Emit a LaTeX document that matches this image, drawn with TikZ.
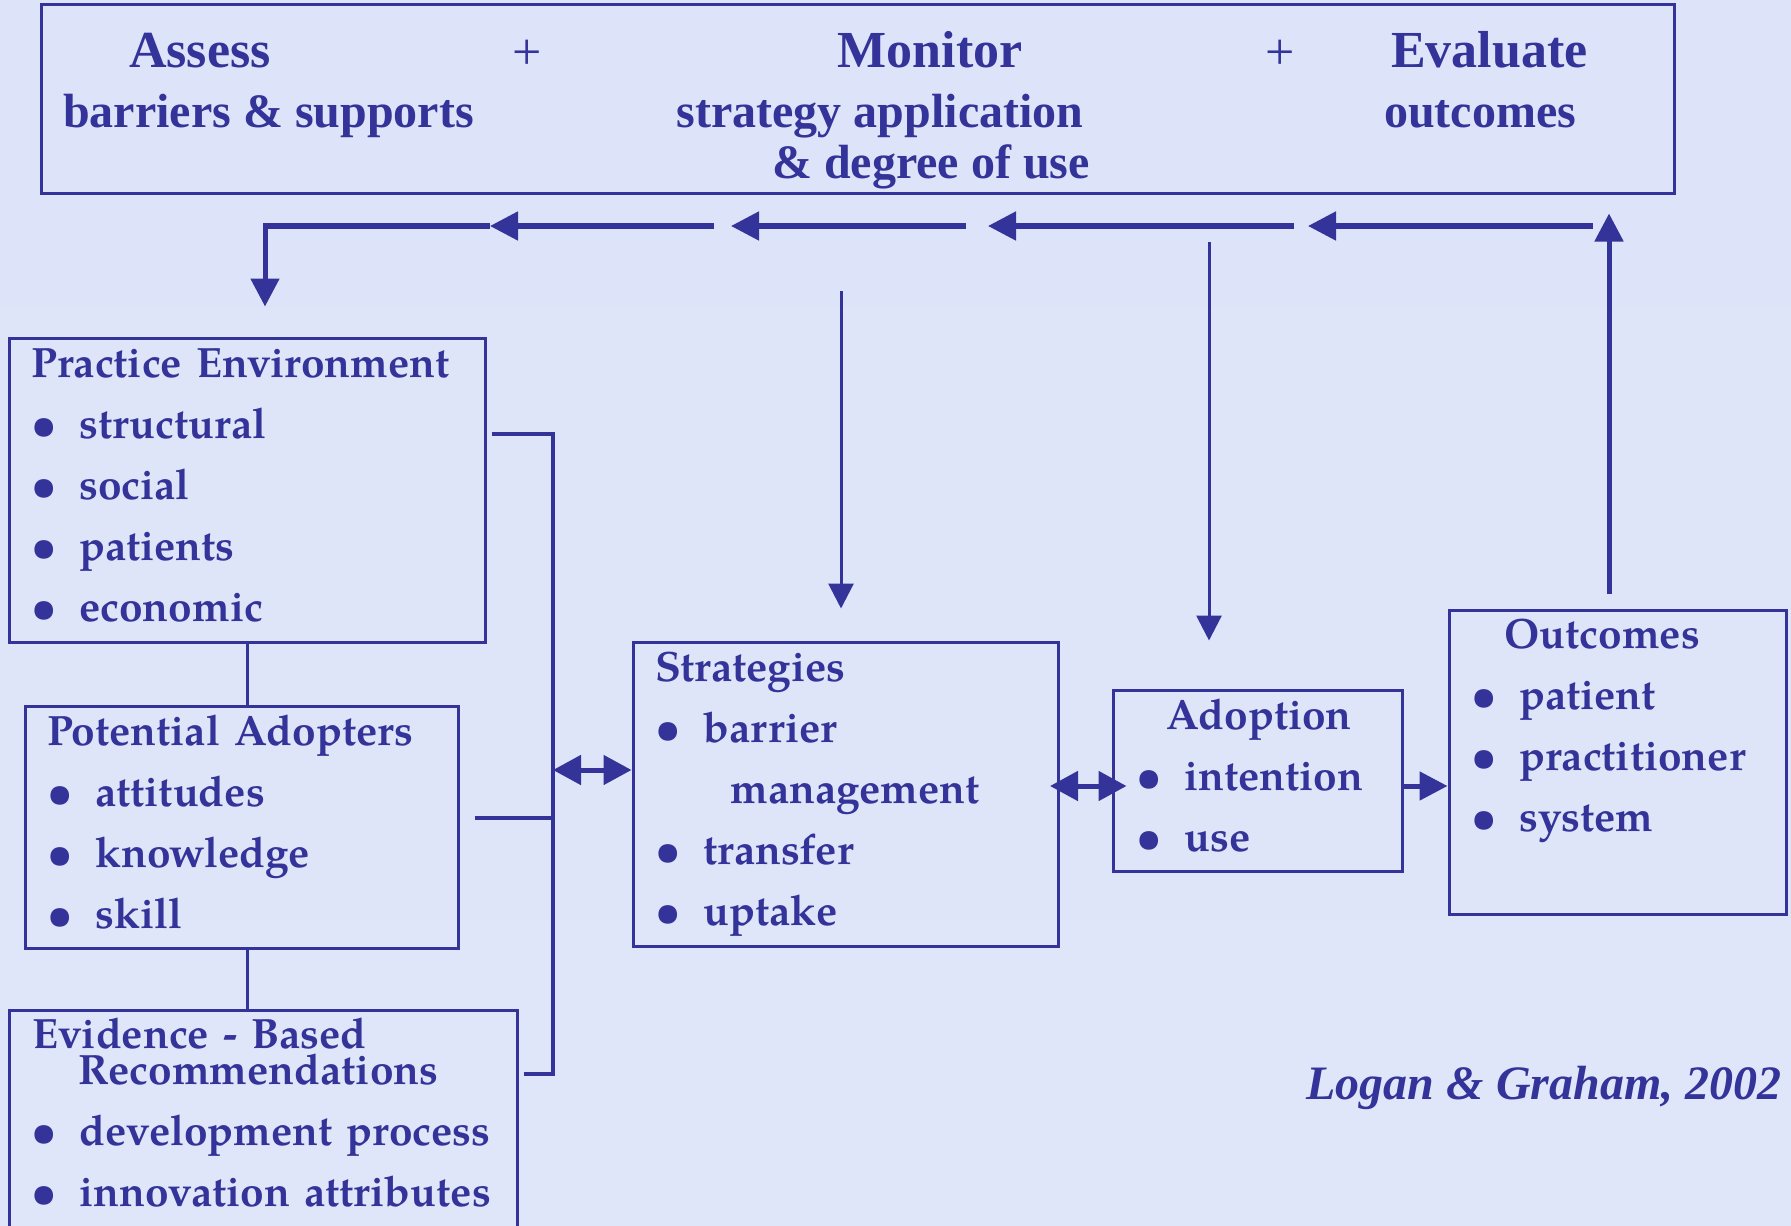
\documentclass[tikz,border=0pt]{standalone}
\usepackage{fontspec}
\setmainfont{Liberation Serif}
\IfFontExistsTF{TeX Gyre Pagella}
  {\newfontfamily\palafam{TeX Gyre Pagella}}
  {\newfontfamily\palafam{Liberation Serif}}
\usetikzlibrary{arrows.meta,calc}

\definecolor{navy}{RGB}{51,51,153}
\definecolor{bgtop}{RGB}{221,228,249}
\definecolor{bgmid}{RGB}{238,242,253}
\definecolor{bgbot}{RGB}{223,230,249}

\newcommand\pala{\palafam\bfseries\fontsize{21.2}{30.6}\selectfont}
\newcommand\itm[1]{\hspace*{-5.5pt}\makebox[24pt][l]{\textbullet}#1}

\begin{document}
\begin{tikzpicture}[x=0.5pt, y=-0.5pt,
  box/.style={draw=navy, line width=1.5pt, inner sep=0pt},
  boxtext/.style={text=navy, font=\pala, anchor=base west, inner sep=0pt, text width=240pt, align=left},
  mainhead/.style={text=navy, font=\bfseries\fontsize{26}{30}\selectfont, anchor=base, inner sep=0pt},
  subhead/.style={text=navy, font=\bfseries\fontsize{24}{28}\selectfont, anchor=base, inner sep=0pt},
  plussign/.style={text=navy, font=\fontsize{26}{30}\selectfont, anchor=base, inner sep=0pt},
  bigarrow/.style={draw=navy, line width=2.5pt, -{Triangle[length=14pt,width=14pt]}},
  thinarrow/.style={draw=navy, line width=1.5pt, -{Triangle[length=12.5pt,width=12.5pt]}},
  dblarrow/.style={draw=navy, line width=2.5pt, {Triangle[length=14pt,width=14.5pt]}-{Triangle[length=14pt,width=14.5pt]}},
  link/.style={draw=navy, line width=1.5pt},
  bracket/.style={draw=navy, line width=2pt}]

\clip (0,0) rectangle (1791,1225);
\shade[top color=bgtop, middle color=bgmid, bottom color=bgbot] (0,0) rectangle (1791,1225);

% top box
\node[box, minimum width=816.5pt, minimum height=94.5pt] (topbox) at (857.5,99.5) {};
\node[mainhead] (assess) at (200,68) {Assess};
\node[subhead] (assessSub) at (268.5,128) {barriers \& supports};
\node[plussign] (plusA) at (527,70) {+};
\node[mainhead] (monitor) at (930,68) {Monitor};
\node[subhead] (monitorSubA) at (880,128) {strategy application};
\node[subhead] (monitorSubB) at (931,179) {\& degree of use};
\node[plussign] (plusB) at (1280,70) {+};
\node[mainhead] (evaluate) at (1489.5,68) {Evaluate};
\node[subhead] (evaluateSub) at (1480,128) {outcomes};

% boxes
\node[box, minimum width=238pt, minimum height=152pt] (env) at (247,490) {};
\node[box, minimum width=216.5pt, minimum height=121pt] (adopters) at (241.5,827) {};
\node[box, minimum width=254pt, minimum height=140pt] (evidence) at (263,1150) {};
\node[box, minimum width=212.5pt, minimum height=152pt] (strategies) at (845.5,794) {};
\node[box, minimum width=144.5pt, minimum height=90.5pt] (adoption) at (1257.5,780.5) {};
\node[box, minimum width=168.5pt, minimum height=152pt] (outcomes) at (1617.5,762) {};

\node[boxtext] (envText) at (42,377) {\hspace*{-5.5pt}Practice Environment\\ \itm{structural}\\ \itm{social}\\ \itm{patients}\\ \itm{economic}};
\node[boxtext] (adoptersText) at (58,745) {\hspace*{-5.5pt}Potential Adopters\\ \itm{attitudes}\\ \itm{knowledge}\\ \itm{skill}};
\node[boxtext] (evidenceText) at (42,1048) {\hspace*{-5pt}Evidence - Based\\[-12.6pt] \hspace*{18pt}Recommendations\\ \itm{development process}\\ \itm{innovation attributes}};
\node[boxtext] (strategiesText) at (666,681) {\hspace*{-5.5pt}Strategies\\ \itm{barrier}\\ \hspace*{32pt}management\\ \itm{transfer}\\ \itm{uptake}};
\node[boxtext] (adoptionText) at (1147,729) {\hspace*{9.5pt}Adoption\\ \itm{intention}\\ \itm{use}};
\node[boxtext] (outcomesText) at (1482,648) {\hspace*{11pt}Outcomes\\ \itm{patient}\\ \itm{practitioner}\\ \itm{system}};

\node[text=navy, font=\bfseries\itshape\fontsize{24}{28}\selectfont, anchor=base] (cite) at (1544,1099) {Logan \& Graham, 2002};

% feedback row
\coordinate (s1) at (714,226);
\coordinate (a1) at (490,226);
\coordinate (c0) at (265,226);
\coordinate (s2) at (966,226);
\coordinate (a2) at (731,226);
\coordinate (s3) at (1294,226);
\coordinate (a3) at (988,226);
\coordinate (s4) at (1593,226);
\coordinate (a4) at (1308,226);
\draw[bigarrow] (s1) -- (a1);
\draw[bigarrow, shorten >=15pt] (a1) -- (c0) -- (c0 |- env.north);
\draw[bigarrow] (s2) -- (a2);
\draw[bigarrow] (s3) -- (a3);
\draw[bigarrow] (s4) -- (a4);
\coordinate (ret) at (1609,594);
\draw[bigarrow, shorten >=9pt] (ret) -- (ret |- topbox.south);

% monitoring
\coordinate (mon) at (841,291);
\draw[thinarrow, shorten >=16pt] (mon) -- (mon |- strategies.north);
\coordinate (use) at (1209,242);
\draw[thinarrow, shorten >=24pt] (use) -- (use |- adoption.north);

% left column
\draw[link] (env.south) -- (env.south |- adopters.north);
\draw[link] (adopters.south -| env.south) -- (env.south |- evidence.north);
\coordinate (bt) at (553,434);
\coordinate (bm) at (553,818);
\coordinate (bb) at (553,1074);
\draw[bracket] ($(bt -| env.east)+(5,0)$) -- (bt) -- (bb) -- ($(bb -| evidence.east)+(5,0)$);
\draw[bracket] ($(bm -| adopters.east)+(15,0)$) -- (bm);

% flow
\coordinate (dl) at (553,770);
\draw[dblarrow] (dl) -- (dl -| strategies.west);
\coordinate (sa) at (1050,786);
\draw[dblarrow, shorten >=-7.5pt] (sa) -- (sa -| adoption.west);
\draw[bigarrow] (adoption.east |- sa) -- (outcomes.west |- sa);

\end{tikzpicture}
\end{document}
